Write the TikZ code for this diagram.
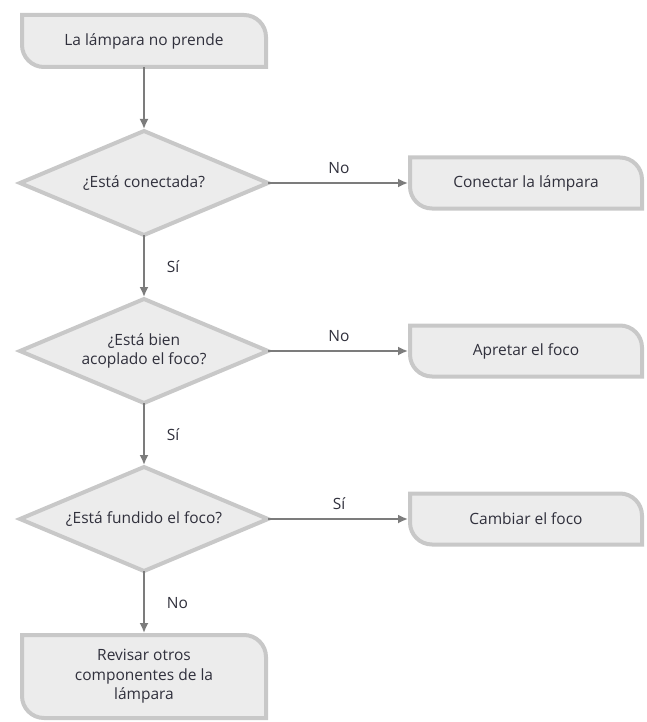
\documentclass[tikz,border=0pt]{standalone}
\usepackage{fontspec}
\setmainfont{Open Sans}
\usetikzlibrary{arrows.meta,positioning,backgrounds}
\definecolor{boxfill}{HTML}{ECECEC}
\definecolor{boxline}{HTML}{C8C8C8}
\definecolor{arrowgray}{HTML}{7C7C7C}
\definecolor{textgray}{HTML}{30303C}
\tikzset{
  node distance   = 64pt,
  pre/.style      = {{Latex[length=10pt,width=9pt]}-, shorten <=2pt, line width=1.8pt, draw=arrowgray},
  post/.style     = {-{Latex[length=10pt,width=9pt]}, shorten >=2pt, line width=1.8pt, draw=arrowgray},
  action/.style   = {rectangle, inner sep=0pt, outer sep=0pt, align=center, text=textgray,
                     minimum width=244pt, minimum height=52pt},
  side action/.style = {action, minimum width=232pt, minimum height=51pt},
  question/.style = {rectangle, inner sep=0pt, outer sep=0pt, align=center, text=textgray,
                     minimum width=248pt, minimum height=104pt},
  answer/.style   = {text=textgray, inner sep=2pt},
  box outline/.style = {draw=boxline, fill=boxfill, line width=4pt}
}
\newcommand\actionframe[1]{%
  \draw[box outline] (#1.north west) -- ([xshift=-22pt]#1.north east)
    arc[start angle=90, end angle=0, radius=22pt] -- (#1.south east)
    -- ([xshift=22pt]#1.south west) arc[start angle=270, end angle=180, radius=22pt] -- cycle;}
\newcommand\questionframe[1]{%
  \draw[box outline] (#1.north) -- (#1.east) -- (#1.south) -- (#1.west) -- cycle;}

\begin{document}
\begin{tikzpicture}[font=\fontsize{15.5}{19.5}\selectfont]
    \useasboundingbox (0,0) rectangle (646pt,-722pt);
    \node[action] (no light) at (144pt,-41pt) {La lámpara no prende};
    \node[question] (plugged) [below=of no light] {¿Está conectada?}
    edge [pre] (no light);
    \node[side action] (plug in) [right=142pt of plugged] {Conectar la lámpara}
    edge [pre] node[answer, midway, above=6pt] {No} (plugged);
    \node[question] (seated) [below=of plugged] {¿Está bien\\acoplado el foco?}
    edge [pre] node[answer, midway, right=20pt] {Sí} (plugged);
    \node[side action] (tighten) [right=142pt of seated] {Apretar el foco}
    edge [pre] node[answer, midway, above=6pt] {No} (seated);
    \node[question] (blown) [below=of seated] {¿Está fundido el foco?}
    edge [pre] node[answer, midway, right=20pt] {Sí} (seated);
    \node[side action] (replace) [right=142pt of blown] {Cambiar el foco}
    edge [pre] node[answer, midway, above=6pt] {Sí} (blown);
    \node[action, minimum height=83pt] (inspect) [below=of blown] {Revisar otros\\componentes de la\\lámpara}
    edge [pre] node[answer, midway, right=20pt] {No} (blown);

    \begin{scope}[on background layer]
      \actionframe{no light}
      \actionframe{plug in}
      \actionframe{tighten}
      \actionframe{replace}
      \actionframe{inspect}
      \questionframe{plugged}
      \questionframe{seated}
      \questionframe{blown}
    \end{scope}
\end{tikzpicture}
\end{document}
